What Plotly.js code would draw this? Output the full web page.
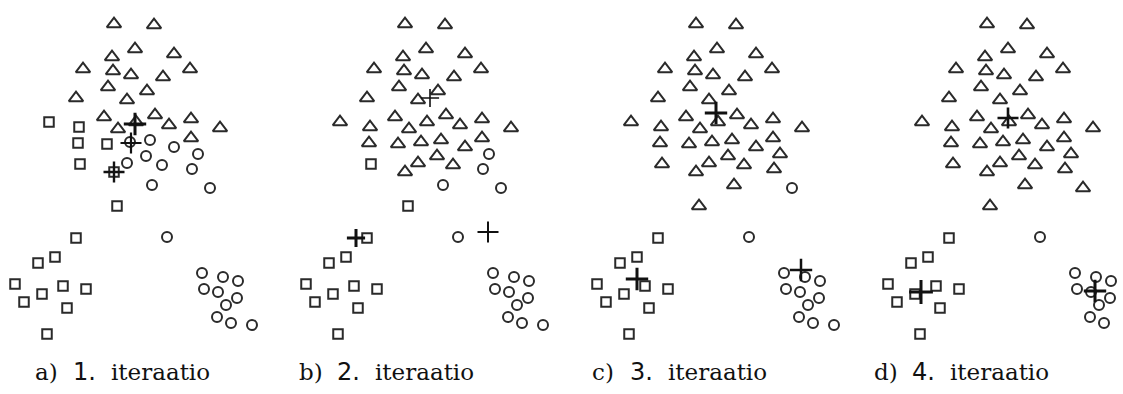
<!DOCTYPE html>
<html>
<head>
<meta charset="utf-8">
<script src="https://cdn.plot.ly/plotly-3.0.1.min.js"></script>
<style>html,body{margin:0;padding:0;background:#fff;}#plot{width:1123px;height:394px;}</style>
</head>
<body>
<div id="plot"></div>
<script>
// Data point positions (same point set in every panel)
const pointX = [114,154,135,174,112,83,113,131,163,190,108,147,76,127,104,155,118,169,191,220,191,136,
                130,150,174,198,146,127,162,192,152,210,
                49,79,78,107,80,114,117,76,
                167,
                55,38,15,63,86,42,24,67,47,
                202,223,238,204,218,237,226,217,231,252];
const pointY = [24,25,49,54,57,69,71,75,77,69,87,91,98,100,117,115,129,125,119,128,138,122,
                142,140,147,154,156,163,165,169,185,188,
                122,127,143,144,164,172,206,238,
                237,
                257,263,284,286,289,294,302,308,334,
                273,277,281,289,292,298,305,317,323,325];

// Cluster membership per iteration (T = triangle, S = square, C = circle)
const labels1 = ("TTTTTTTTTTTTTTTTTTTTTT" + "CCCCCCCCCC" + "SSSSSSSS" + "C" + "SSSSSSSSS" + "CCCCCCCCCC").split("");
const labels2 = ("TTTTTTTTTTTTTTTTTTTTTTTTT" + "C" + "TTT" + "CCC" + "TTTT" + "S" + "T" + "SS" + "C" + "SSSSSSSSS" + "CCCCCCCCCC").split("");
const labels3 = ("TTTTTTTTTTTTTTTTTTTTTTTTTTTTTTT" + "C" + "TTTTTTT" + "S" + "C" + "SSSSSSSSS" + "CCCCCCCCCC").split("");
const labels4 = ("TTTTTTTTTTTTTTTTTTTTTTTTTTTTTTTTTTTTTTT" + "S" + "C" + "SSSSSSSSS" + "CCCCCCCCCC").split("");

// Centroids per iteration
const centroidX1 = [135,131,114];
const centroidY1 = [124,143,172];
const centroidX2 = [139,65,197];
const centroidY2 = [98,238,232];
const centroidX3 = [134,55,219];
const centroidY3 = [113,279,270];
const centroidX4 = [135,48,222];
const centroidY4 = [118,292,291];

// Captions
const captionLetters = ["a)", "b)", "c)", "d)"];
const captionNumbers = ["1.", "2.", "3.", "4."];
const captionWord = "iteraatio";

const panels = [
  {labels: labels1, cx: centroidX1, cy: centroidY1},
  {labels: labels2, cx: centroidX2, cy: centroidY2},
  {labels: labels3, cx: centroidX3, cy: centroidY3},
  {labels: labels4, cx: centroidX4, cy: centroidY4}
];

// style
const INK = '#2a2a2a';
const W = 1123, H = 394, PANEL = 291;
const centroidWidths = [[3,2.2,2.4],[1.6,3,2],[3,3,2.5],[2.6,3,3]];
const centroidSizes = [[16,15,15],[13,13,15],[16,16,16],[15,17,16]];
const shapeStyle = {
  T: {symbol: 'triangle-up-open', size: 12.5},
  S: {symbol: 'square-open', size: 9.5},
  C: {symbol: 'circle-open', size: 10}
};

const traces = [];
const layout = {
  width: W, height: H,
  margin: {l: 0, r: 0, t: 0, b: 0},
  paper_bgcolor: '#fff', plot_bgcolor: 'rgba(0,0,0,0)',
  showlegend: false,
  annotations: [],
  yaxis: {range: [H, 0], domain: [0, 1], visible: false, fixedrange: true}
};

panels.forEach((p, i) => {
  const ax = i === 0 ? '' : String(i + 1);
  const xa = 'x' + ax;
  const d0 = i * PANEL / W;
  const d1 = Math.min(1, (i + 1) * PANEL / W);
  layout['xaxis' + ax] = {
    domain: [d0, d1],
    range: [0, (d1 - d0) * W],
    visible: false, fixedrange: true, anchor: 'y'
  };
  ['T', 'S', 'C'].forEach(k => {
    const xs = [], ys = [];
    p.labels.forEach((l, j) => { if (l === k) { xs.push(pointX[j]); ys.push(pointY[j]); } });
    traces.push({
      type: 'scatter', mode: 'markers', x: xs, y: ys, xaxis: xa, yaxis: 'y',
      hoverinfo: 'skip',
      marker: {symbol: shapeStyle[k].symbol, size: shapeStyle[k].size, color: INK,
               line: {color: INK, width: 2}}
    });
  });
  p.cx.forEach((cx, j) => {
    traces.push({
      type: 'scatter', mode: 'markers', x: [cx], y: [p.cy[j]], xaxis: xa, yaxis: 'y',
      hoverinfo: 'skip', cliponaxis: false,
      marker: {symbol: 'cross-thin', size: centroidSizes[i][j], color: '#111',
               line: {color: '#111', width: centroidWidths[i][j]}}
    });
  });
  const base = [33, 297, 590, 872][i];
  const cy = 1 - 372 / H;
  layout.annotations.push(
    {xref: 'paper', yref: 'paper', x: base / W, y: cy, xanchor: 'left', yanchor: 'middle', showarrow: false,
     text: captionLetters[i], font: {family: 'DejaVu Serif', size: 23, color: '#111'}},
    {xref: 'paper', yref: 'paper', x: (base + 38) / W, y: cy, xanchor: 'left', yanchor: 'middle', showarrow: false,
     text: captionNumbers[i], font: {family: 'DejaVu Sans', size: 24, color: '#111'}},
    {xref: 'paper', yref: 'paper', x: (base + 76) / W, y: cy, xanchor: 'left', yanchor: 'middle', showarrow: false,
     text: captionWord, font: {family: 'DejaVu Serif', size: 23, color: '#111'}}
  );
});

Plotly.newPlot('plot', traces, layout, {staticPlot: true, displayModeBar: false});
</script>
</body>
</html>
